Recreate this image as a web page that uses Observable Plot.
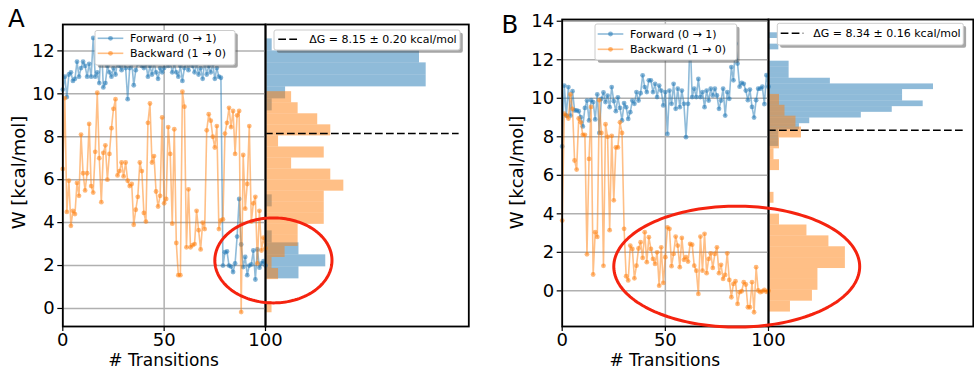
<!DOCTYPE html>
<html><head><meta charset="utf-8">
<script src="https://cdn.jsdelivr.net/npm/d3@7"></script>
<script src="https://cdn.jsdelivr.net/npm/@observablehq/plot@0.6"></script>
<style>
body{margin:0;background:#fff;}
#chart{position:relative;width:974px;height:370px;overflow:hidden;background:#fff;}
</style></head><body><div id="chart"></div><script>
// ---------- data ----------
const transitions = d3.range(0, 101);

const forwardA = [10.2,10.8,9.85,10.9,11.0,10.6,10.7,11.5,10.8,11.2,
11.5,11.3,10.8,11.4,10.8,12.6,10.8,11.0,10.5,12.5,
10.3,10.5,11.3,11.0,10.8,11.2,10.9,11.5,11.3,11.1,
11.5,11.2,9.75,11.2,11.5,10.4,11.1,11.4,11.6,11.3,
11.2,11.4,10.8,11.3,10.9,11.5,11.0,10.7,11.2,11.0,
11.2,12.4,11.3,11.5,11.0,11.4,11.0,10.8,11.3,10.6,
11.2,11.5,11.1,11.6,11.3,11.0,11.4,10.9,11.2,10.7,
11.5,10.9,11.3,11.0,11.4,10.7,11.2,10.8,10.75,
2.0,2.62,2.66,2.0,1.95,1.7,2.1,3.35,5.1,2.98,1.93,2.4,1.55,2.0,2.05,2.7,1.35,2.75,1.9,2.1,2.2,2.0];

const backwardA = [6.5,9.8,4.5,5.95,3.85,4.55,4.4,5.85,5.25,8.1,
6.3,5.5,6.3,8.6,5.7,5.4,7.3,10.05,7.0,4.95,
7.25,7.6,6.0,7.2,8.4,9.3,9.75,6.2,6.4,6.8,
6.15,6.8,5.95,5.7,5.8,3.9,4.6,5.2,6.8,6.4,
4.45,4.05,8.65,9.55,6.8,7.1,5.45,4.75,5.25,8.9,
4.9,5.1,8.45,7.2,3.95,8.35,3.05,1.55,1.55,10.1,
9.4,2.85,5.55,2.85,2.95,3.0,4.55,3.65,2.75,4.0,
3.7,8.3,9.05,8.75,8.0,7.5,8.5,3.7,4.1,4.15,
8.15,8.65,9.35,8.45,9.2,7.2,9.0,9.2,-0.17,7.15,
4.65,5.8,8.5,4.05,4.9,5.2,2.1,4.55,2.7,3.3,2.8];

const forwardB = [7.5,10.66,9.1,10.58,9.1,10.37,9.37,9.37,9.33,9.02,
8.54,9.5,9.88,8.85,9.9,9.8,8.9,10.2,8.2,9.97,
10.3,9.8,10.14,9.54,10.58,9.85,9.33,10.05,9.5,8.85,
9.75,9.54,8.93,9.28,9.88,9.71,10.32,9.88,10.26,11.19,
10.58,10.32,10.93,10.93,10.32,10.75,10.06,10.66,10.4,9.63,
10.32,8.15,10.4,9.71,10.75,9.45,10.5,9.54,10.4,9.71,
7.98,9.71,13.3,10.06,10.5,10.06,11.0,10.06,10.32,9.54,
10.4,9.88,10.5,10.15,10.5,10.15,9.45,9.88,10.5,9.1,
10.32,9.97,11.62,10.93,12.83,11.8,10.6,10.8,10.75,10.4,
9.9,10.45,9.55,9.0,9.9,10.5,10.5,10.6,9.7,11.2,10.6];

const backwardB = [3.65,9.2,9.1,8.95,10.2,9.45,6.77,6.3,8.95,8.75,
8.1,8.1,1.9,6.85,9.55,0.85,3.05,2.8,9.9,8.2,
1.3,8.65,8.0,3.15,8.05,4.7,7.45,7.45,8.75,8.2,
3.22,0.76,0.54,2.35,2.18,0.65,1.31,2.2,2.53,1.71,
3.05,1.49,2.79,2.18,1.66,1.40,2.0,0.27,2.26,0.41,
1.75,3.3,3.22,1.28,1.92,2.82,2.35,1.23,2.75,1.61,
1.75,1.52,2.44,2.4,1.31,1.05,-0.16,2.82,1.05,2.96,
0.92,1.66,1.95,1.19,1.92,2.26,0.92,1.35,0.62,0.83,
1.95,0.57,-0.33,0.36,0.5,-0.68,-0.07,-0.02,0.45,0.33,
-0.85,-0.85,0.45,-1.11,1.23,0.02,-0.07,-0.02,0.05,-0.05,0.0];

// histogram bin counts (bottom bin first), first bin edge, bin width
const histAForwardCounts = [5,9,5,1,0,0,1,0,0,0,0,0,0,0,1,3,24,24,23,1];
const histAForwardStart = 1.38, histAForwardWidth = 0.559;
const histABackwardCounts = [1,0,0,2,1,3,5,5,9,9,9,12,10,4,9,2,10,8,5,4];
const histABackwardStart = -0.2, histABackwardWidth = 0.515;
const histBForwardCounts = [1,1,1,3,4,9,12,15,13,13,16,6,2,2,2,0,0,1,0,1];
const histBForwardStart = 7.5, histBForwardWidth = 0.295;
const histBBackwardCounts = [4,8,9,9,14,14,11,7,2,0,1,0,0,2,1,2,6,5,3,2];
const histBBackwardStart = -1.1, histBBackwardWidth = 0.565;

const deltaG = [8.15, 8.34];
const deltaGLabels = ["ΔG = 8.15 ± 0.20 kcal/mol", "ΔG = 8.34 ± 0.16 kcal/mol"];
const seriesLabels = ["Forward (0 → 1)", "Backward (1 → 0)"];
const panelLabels = ["A", "B"];
const xTicks = [0, 50, 100];
const yTicksA = [0, 2, 4, 6, 8, 10, 12];
const yTicksB = [0, 2, 4, 6, 8, 10, 12, 14];
// highlight ellipses in data units: center transition, center W, radius transitions, radius W
const ellipseA = [103.9, 2.24, 28.9, 1.98];
const ellipseB = [84.6, 1.26, 59.6, 3.14];

// ---------- drawing ----------
const BLUE = "#1f77b4", ORANGE = "#ff7f0e", RED = "#f5230f", GRID = "#b0b0b0";
const W = 974, H = 370;
const chart = document.getElementById("chart");
const baseStyle = {background: "transparent", fontFamily: "DejaVu Sans", fontSize: "18px",
  position: "absolute", left: "0px", top: "0px", overflow: "visible", maxWidth: "none"};

function toRows(vals) { return transitions.map((t, i) => ({t, w: vals[i]})); }
function bins(counts, start, width) {
  const n = d3.sum(counts);
  return counts.map((c, k) => ({y1: start + k * width, y2: start + (k + 1) * width, d: c / (n * width)}))
    .filter(b => b.d > 0);
}
function ellipsePts([cx, cy, rx, ry]) {
  return d3.range(0, 361, 2).map(a => ({x: cx + rx * Math.cos(a * Math.PI / 180), y: cy + ry * Math.sin(a * Math.PI / 180)}));
}

function linePanel(fwd, bwd, box, yDomain, yTicks, ell) {
  const f = toRows(fwd), b = toRows(bwd);
  return Plot.plot({
    width: W, height: H,
    marginLeft: box.l, marginRight: W - box.r, marginTop: box.t, marginBottom: H - box.b,
    x: {domain: [0, 100], label: null},
    y: {domain: yDomain, label: null},
    style: baseStyle,
    marks: [
      Plot.gridX(xTicks, {stroke: GRID, strokeOpacity: 1, strokeWidth: 1.5}),
      Plot.gridY(yTicks, {stroke: GRID, strokeOpacity: 1, strokeWidth: 1.5}),
      Plot.line(f, {x: "t", y: "w", stroke: BLUE, strokeOpacity: 0.5, strokeWidth: 1.6}),
      Plot.dot(f, {x: "t", y: "w", fill: BLUE, fillOpacity: 0.55, r: 2.4}),
      Plot.line(b, {x: "t", y: "w", stroke: ORANGE, strokeOpacity: 0.5, strokeWidth: 1.6}),
      Plot.dot(b, {x: "t", y: "w", fill: ORANGE, fillOpacity: 0.55, r: 2.4}),
      Plot.frame({stroke: "black", strokeWidth: 1.8}),
      Plot.axisX(xTicks, {tickSize: 5, tickPadding: 1.5, label: null, fontSize: 18, strokeWidth: 1.2}),
      Plot.axisY(yTicks, {tickSize: 5, tickPadding: 3, label: null, fontSize: 18, strokeWidth: 1.2}),
      Plot.line(ellipsePts(ell), {x: "x", y: "y", stroke: RED, strokeWidth: 3, clip: false})
    ]
  });
}

function histPanel(blueBins, orangeBins, box, yDomain, xMax, dg) {
  return Plot.plot({
    width: W, height: H,
    marginLeft: box.l, marginRight: W - box.r, marginTop: box.t, marginBottom: H - box.b,
    x: {domain: [0, xMax], axis: null},
    y: {domain: yDomain, axis: null},
    style: baseStyle,
    marks: [
      Plot.rect(blueBins, {x1: 0, x2: "d", y1: "y1", y2: "y2", fill: BLUE, fillOpacity: 0.5}),
      Plot.rect(orangeBins, {x1: 0, x2: "d", y1: "y1", y2: "y2", fill: ORANGE, fillOpacity: 0.5}),
      Plot.ruleY([dg], {x1: 0, x2: xMax / 1.05, stroke: "black", strokeWidth: 1.6, strokeDasharray: "7.7,3.3"}),
      Plot.frame({stroke: "black", strokeWidth: 1.8})
    ]
  });
}

const yDomA = [-0.84, 13.23], yDomB = [-1.85, 14.09];
const boxA = {l: 62.3, r: 265, t: 24, b: 326}, histBoxA = {l: 265, r: 468.3, t: 24, b: 326};
const boxB = {l: 561.7, r: 768, t: 19, b: 326}, histBoxB = {l: 768, r: 972.8, t: 19, b: 326};

chart.append(histPanel(
  bins(histAForwardCounts, histAForwardStart, histAForwardWidth),
  bins(histABackwardCounts, histABackwardStart, histABackwardWidth),
  histBoxA, yDomA, 0.56, deltaG[0]));
chart.append(linePanel(forwardA, backwardA, boxA, yDomA, yTicksA, ellipseA));
chart.append(histPanel(
  bins(histBForwardCounts, histBForwardStart, histBForwardWidth),
  bins(histBBackwardCounts, histBBackwardStart, histBBackwardWidth),
  histBoxB, yDomB, 0.66, deltaG[1]));
chart.append(linePanel(forwardB, backwardB, boxB, yDomB, yTicksB, ellipseB));

// ---------- text & legends overlay ----------
const ov = d3.create("svg").attr("width", W).attr("height", H)
  .style("position", "absolute").style("left", "0px").style("top", "0px")
  .attr("font-family", "DejaVu Sans");

const panels = [
  {letter: [8, 27.3], ylab: [25, 172.5], xlab: [163.6, 365.5],
   sl: {x: 95, y: 30.5, w: 140, h: 34.5, r1: 38.3, r2: 53.3, s0: 97.7, s1: 123.3, tx: 130},
   dl: {x: 274, y: 30, w: 186, h: 20, ry: 39.3, s0: 278.3, s1: 300, tx: 309.3}},
  {letter: [501.5, 32.7], ylab: [523, 172.5], xlab: [664.8, 365.5],
   sl: {x: 595, y: 24, w: 141.7, h: 36, r1: 34, r2: 49.3, s0: 597.7, s1: 623.3, tx: 630},
   dl: {x: 777.3, y: 23.3, w: 186, h: 21.7, ry: 33.3, s0: 780.7, s1: 803.3, tx: 813.3}}
];

function legendFrame(g, x, y, w, h) {
  g.append("rect").attr("x", x + 2.8).attr("y", y + 2.8).attr("width", w).attr("height", h)
    .attr("rx", 2).attr("fill", "rgb(77,77,77)").attr("fill-opacity", 0.5);
  g.append("rect").attr("x", x).attr("y", y).attr("width", w).attr("height", h)
    .attr("rx", 2).attr("fill", "white").attr("stroke", "#cccccc").attr("stroke-width", 1);
}

panels.forEach((p, i) => {
  ov.append("text").attr("x", p.letter[0]).attr("y", p.letter[1]).attr("font-size", 24.5).text(panelLabels[i]);
  ov.append("text").attr("transform", `translate(${p.ylab[0]},${p.ylab[1]}) rotate(-90)`)
    .attr("text-anchor", "middle").attr("font-size", 18).text("W [kcal/mol]");
  ov.append("text").attr("x", p.xlab[0]).attr("y", p.xlab[1]).attr("text-anchor", "middle")
    .attr("font-size", 17).text("# Transitions");

  const s = p.sl;
  legendFrame(ov, s.x, s.y, s.w, s.h);
  [[s.r1, BLUE, seriesLabels[0]], [s.r2, ORANGE, seriesLabels[1]]].forEach(([ry, col, lab]) => {
    ov.append("line").attr("x1", s.s0).attr("x2", s.s1).attr("y1", ry).attr("y2", ry)
      .attr("stroke", col).attr("stroke-opacity", 0.5).attr("stroke-width", 1.6);
    ov.append("circle").attr("cx", (s.s0 + s.s1) / 2).attr("cy", ry).attr("r", 2.4)
      .attr("fill", col).attr("fill-opacity", 0.55);
    ov.append("text").attr("x", s.tx).attr("y", ry).attr("dy", "0.36em").attr("font-size", 11).text(lab);
  });

  const d = p.dl;
  legendFrame(ov, d.x, d.y, d.w, d.h);
  ov.append("line").attr("x1", d.s0).attr("x2", d.s1).attr("y1", d.ry).attr("y2", d.ry)
    .attr("stroke", "black").attr("stroke-width", 1.6).attr("stroke-dasharray", "7.7,3.3");
  ov.append("text").attr("x", d.tx).attr("y", d.ry).attr("dy", "0.36em").attr("font-size", 11).text(deltaGLabels[i]);
});

chart.append(ov.node());
</script></body></html>
